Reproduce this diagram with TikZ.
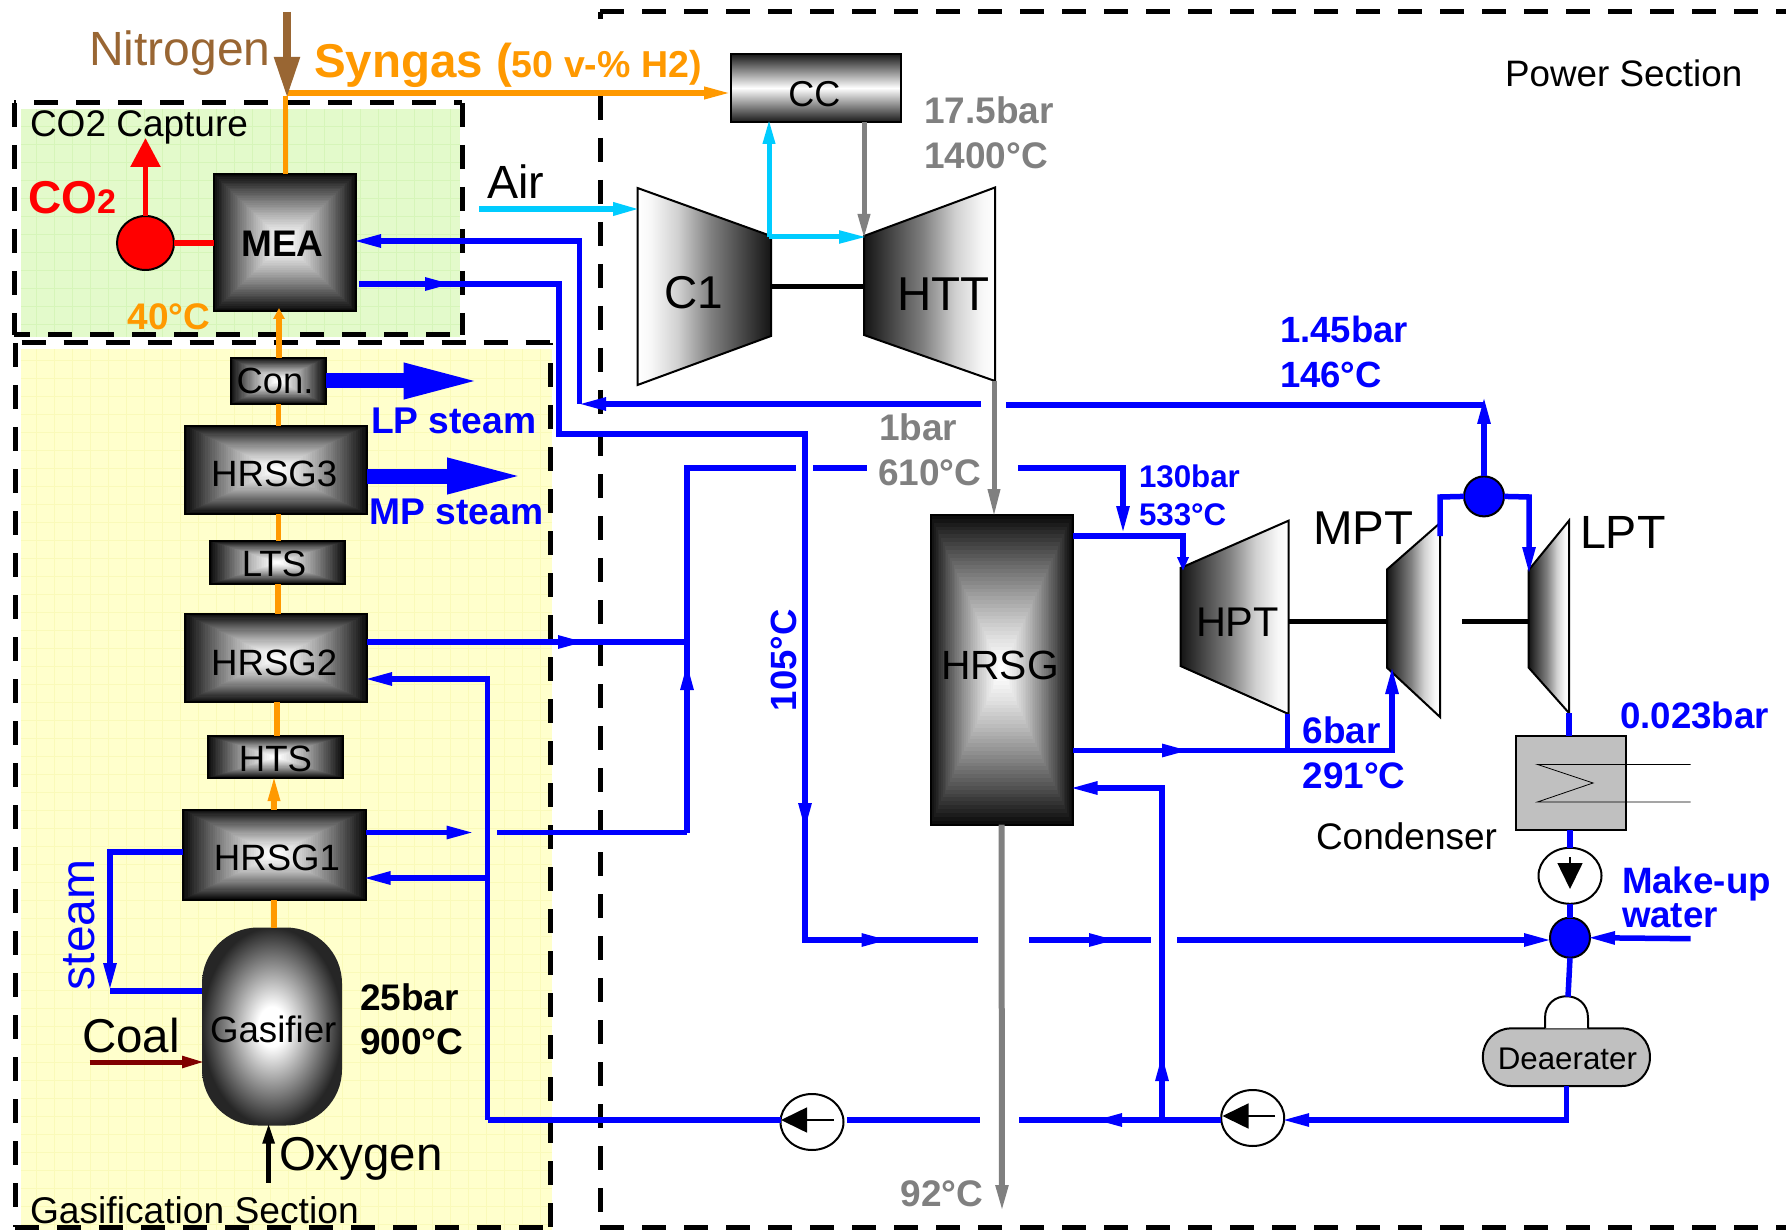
\documentclass[tikz,border=0pt]{standalone}
\usepackage{fontspec}
\setmainfont{Liberation Sans}
\usetikzlibrary{arrows.meta,calc,shapes.geometric}
\definecolor{mblue}{RGB}{0,0,255}
\definecolor{morange}{RGB}{255,153,0}
\definecolor{mgray}{RGB}{128,128,128}
\definecolor{mcyan}{RGB}{0,204,255}
\definecolor{mbrown}{RGB}{153,102,51}
\definecolor{mdred}{RGB}{128,0,0}
\definecolor{mred}{RGB}{255,0,0}
\definecolor{mgreen}{RGB}{227,250,203}
\definecolor{mgreengrid}{RGB}{214,245,185}
\definecolor{myellow}{RGB}{255,255,204}
\definecolor{myellowgrid}{RGB}{250,250,185}
\definecolor{mbox}{RGB}{192,192,192}
\pgfdeclareradialshading{gasshade}{\pgfpoint{0bp}{0bp}}{color(0bp)=(white);color(5bp)=(white);color(25bp)=(black!85);color(50bp)=(black!85)}
\pgfdeclarehorizontalshading{turbdark}{100bp}{color(0bp)=(black!92);color(25bp)=(black!92);color(47.5bp)=(black!50);color(60bp)=(black!18);color(70bp)=(black!3);color(75bp)=(white);color(100bp)=(white)}
\pgfdeclarehorizontalshading{turblight}{100bp}{color(0bp)=(white);color(25bp)=(white);color(30bp)=(black!3);color(40bp)=(black!18);color(52.5bp)=(black!50);color(75bp)=(black!92);color(100bp)=(black!92)}
\newcommand\boxtxt[3]{\raisebox{-#2pt}[0pt][0pt]{\makebox[0pt]{\hspace*{#1pt}\hspace*{#1pt}#3}}}
\tikzset{
 lbl/.style={anchor=base west,inner sep=0pt,outer sep=0pt,yshift=-1.2pt},
 fr/.style={font=\fontsize{#1}{#1}\selectfont},
 fb/.style={font=\fontsize{#1}{#1}\selectfont\bfseries},
 sect/.style={draw=black,line width=5pt,dash pattern=on 24pt off 18pt},
 bl/.style={draw=mblue,line width=5.5pt},
 ol/.style={draw=morange,line width=5.5pt},
 gl/.style={draw=mgray,line width=5pt},
 cl/.style={draw=mcyan,line width=5pt},
 shaftline/.style={draw=black,line width=5pt},
 over/.style={shorten >=-3pt},
 cont/.style={shorten <=-14pt},
 bh/.style={over,-{Triangle[length=28pt,width=12pt]}},
 bigh/.style={draw=mblue,line width=15pt,shorten >=-8pt,-{Triangle[length=79pt,width=32pt]}},
 turbl/.style={draw=black,line width=2pt,shade,shading=turblight},
 turbr/.style={draw=black,line width=2pt,shade,shading=turbdark},
 gradbox/.style={rectangle,draw=black,line width=2pt,inner sep=0pt,outer sep=0pt,
  path picture={\foreach \i in {0,...,39}{
    \pgfmathsetmacro\gradk{95*(1-\i/39)^1.25}
    \fill[black!\gradk!white] ($(path picture bounding box.north west)!{\i/80}!(path picture bounding box.south east)$) rectangle ($(path picture bounding box.north west)!{1-\i/80}!(path picture bounding box.south east)$);
  }}},
 pump/.style={ellipse,draw=black,line width=2pt,fill=white,minimum width=63pt,minimum height=56pt,inner sep=0pt,outer sep=0pt},
 junc/.style={ellipse,draw=black,line width=2pt,fill=mblue,minimum width=40pt,minimum height=40pt,inner sep=0pt,outer sep=0pt},
 pumph/.style={draw=black,line width=1.6pt,-{Triangle[length=26pt,width=25pt]}},
}
\begin{document}
\begin{tikzpicture}[x=1pt,y=-1pt]
\useasboundingbox (0,0) rectangle (1786,1230);
\clip (0,0) rectangle (1786,1230);
\fill[white] (0,0) rectangle (1786,1230);
% section backgrounds
\fill[mgreen] (21,109) rectangle (460,337);
\draw[mgreengrid,line width=.6pt] (21,109) grid[xstep=18pt,ystep=18pt] (460,337);
\fill[myellow] (21,349) rectangle (552,1230);
\draw[myellowgrid,line width=.6pt] (21,349) grid[xstep=18pt,ystep=18pt] (552,1230);
% section frames
\coordinate (pwTL) at (600,12);
\coordinate (pwL) at (600,96);
\coordinate (pwTR) at (1790,12);
\coordinate (pwBL) at (600,1227);
\coordinate (pwBR) at (1790,1227);
\coordinate (pwTick) at (600,19);
\draw[sect] (pwTL) -- (pwTR);
\draw[sect] (pwTL) -- (pwTick);
\draw[sect] (pwL) -- (pwBL);
\draw[sect] (pwBL) -- (pwBR);
\coordinate (coTL) at (14,103);
\coordinate (coTR) at (462,103);
\coordinate (coBL) at (14,335);
\coordinate (coBR) at (462,335);
\draw[sect,dash phase=21.6pt] (coTL) -- (coTR);
\draw[sect] (coTL) -- (coBL);
\draw[sect,dash phase=8pt] (coBL) -- (coBR);
\draw[sect] (coTR) -- (coBR);
\coordinate (gaTL) at (15,343);
\coordinate (gaTR) at (550,343);
\coordinate (gaBL) at (15,1227);
\coordinate (gaBR) at (550,1227);
\draw[sect,dash phase=35.4pt] (gaTL) -- (gaTR);
\draw[sect] (gaTL) -- (gaBL);
\draw[sect,dash phase=22pt] (gaTR) -- (gaBR);
\draw[sect] (gaBL) -- (gaBR);
% equipment boxes
\node[gradbox,minimum width=142.5pt,minimum height=137pt,fb=37] (mea) at (284.75,242.5) {\boxtxt{-2.3}{14}{MEA}};
\node[gradbox,minimum width=95pt,minimum height=46pt,fr=36.4] (con) at (278,381) {\boxtxt{-3}{13}{Con.}};
\node[gradbox,minimum width=182pt,minimum height=88pt,fr=36.6] (hrsg3) at (276,469.7) {\boxtxt{-1.75}{17.3}{HRSG3}};
\node[gradbox,minimum width=135pt,minimum height=43pt,fr=36.6] (lts) at (277.5,562.5) {\boxtxt{-3.5}{14}{LTS}};
\node[gradbox,minimum width=182pt,minimum height=88pt,fr=36.6] (hrsg2) at (276,658) {\boxtxt{-1.75}{17}{HRSG2}};
\node[gradbox,minimum width=135pt,minimum height=42pt,fr=36.6] (hts) at (275.5,757) {\boxtxt{0}{14}{HTS}};
\node[gradbox,minimum width=182.5pt,minimum height=89.5pt,fr=36.6] (hrsg1) at (274.25,854.75) {\boxtxt{2.75}{16}{HRSG1}};
\node[gradbox,minimum width=142pt,minimum height=309.5pt,fr=40.8] (hrsg) at (1001.5,669.75) {\boxtxt{-1.5}{10}{HRSG}};
\node[rectangle,draw=black,line width=2pt,inner sep=0pt,outer sep=0pt,shading=axis,top color=black!90,bottom color=black!90,middle color=white,minimum width=170pt,minimum height=68pt,fr=36] (cc) at (816,88) {\boxtxt{-1.6}{19}{CC}};
\node[rectangle,rounded corners=56pt,draw=none,inner sep=0pt,outer sep=0pt,shading=gasshade,minimum width=140pt,minimum height=198pt,fr=36.7] (gas) at (272,1026.5) {\boxtxt{1.25}{15.5}{Gasifier}};
\node[rectangle,draw=black,line width=2pt,fill=mbox,inner sep=0pt,outer sep=0pt,minimum width=110.2pt,minimum height=94.4pt] (cond) at (1570.7,783.2) {};
\node[rectangle,rounded corners=28pt,draw=black,line width=2pt,fill=mbox,inner sep=0pt,outer sep=0pt,minimum width=167pt,minimum height=57.6pt,fr=31.3] (dea) at (1566.4,1057.2) {\boxtxt{1}{12.5}{Deaerater}};
% deaerater dome
\draw[black,line width=2pt,fill=white] (1545,1028.4) -- (1545,1018) .. controls (1545,989) and (1588,989) .. (1588,1018) -- (1588,1028.4);
% condenser coil
\draw[black,line width=.8pt] (1690.6,764.4) -- (1537.4,764.4) -- (1593,783) -- (1537.4,802) -- (1690.6,802);
% turbines
\path[turbl] (637.5,188) -- (771,236) -- (771,336) -- (637.5,385) -- cycle;
\path[turbr] (864,236) -- (995,187.5) -- (995,381) -- (864,335) -- cycle;
\path[turbr] (1180.5,568) -- (1288.5,520.7) -- (1288.5,714) -- (1180.5,666) -- cycle;
\path[turbr] (1387,569.5) -- (1440,523) -- (1440,717) -- (1387,667.7) -- cycle;
\path[turbr] (1528.7,570) -- (1569,520.6) -- (1569,713) -- (1528.7,667.7) -- cycle;
% pumps and junctions
\node[pump] (p1) at (1570,875.8) {};
\node[pump] (p2) at (1252.7,1118) {};
\node[pump] (p3) at (812,1122) {};
\node[junc] (spl) at (1484,496.4) {};
\node[junc] (mix) at (1570,937.7) {};
\node[ellipse,draw=black,line width=2pt,fill=mred,minimum width=57pt,minimum height=54pt,inner sep=0pt,outer sep=0pt] (cap) at (145.5,243) {};
% pump arrows
\coordinate (p1a) at (1570,857); \coordinate (p1b) at (1570,889);
\draw[pumph] (p1a) -- (p1b);
\coordinate (p2a) at (1275,1116); \coordinate (p2b) at (1222.5,1116);
\draw[pumph] (p2a) -- (p2b);
\coordinate (p3a) at (833.7,1120); \coordinate (p3b) at (781,1120);
\draw[pumph] (p3a) -- (p3b);
% shafts
\coordinate (sh1) at (771,286.5); \coordinate (sh2) at (864,286.5);
\coordinate (sh3) at (1288,621); \coordinate (sh4) at (1387,621);
\coordinate (sh5) at (1462,621); \coordinate (sh6) at (1528.7,621);
\draw[shaftline] (sh1) -- (sh2);
\draw[shaftline] (sh3) -- (sh4);
\draw[shaftline] (sh5) -- (sh6);
% nitrogen and syngas
\coordinate (nt) at (287,12); \coordinate (nb) at (287,95);
\coordinate (sg) at (287,93); \coordinate (ccin) at (730,93);
\coordinate (og) at (285.6,96);
\draw[draw=morange,line width=6pt,over,-{Triangle[length=29pt,width=11pt]}] (sg) -- (ccin);
\draw[ol] (og) -- (og |- mea.north);
\draw[draw=mbrown,line width=8pt,over,-{Triangle[length=41pt,width=24pt]}] (nt) -- (nb);
% shift train
\draw[ol] ([xshift=2pt]gas.north) -- ([xshift=-.25pt]hrsg1.south);
\draw[ol,over,-{Triangle[length=26pt,width=11pt]}] ([xshift=-.25pt]hrsg1.north) -- ([xshift=-1.5pt]hts.south);
\draw[ol] ([xshift=1.5pt]hts.north) -- ([xshift=1pt]hrsg2.south);
\draw[ol] ([xshift=2pt]hrsg2.north) -- ([xshift=.5pt]lts.south);
\draw[ol] ([xshift=1.2pt]lts.north) -- ([xshift=2.7pt]hrsg3.south);
\draw[ol] ([xshift=2.7pt]hrsg3.north) -- ([xshift=.7pt]con.south);
\draw[ol,over,-{Triangle[length=11pt,width=11pt]}] ([xshift=1pt]con.north) -- ([xshift=-5.75pt]mea.south);
% CO2
\coordinate (co2t) at (145.5,141);
\draw[draw=mred,line width=5.5pt,over,-{Triangle[length=29pt,width=29pt]}] (cap.north) -- (co2t);
\draw[draw=mred,line width=6pt] (cap.east) -- (mea.west |- cap.east);
% air
\coordinate (air0) at (479,209); \coordinate (air1) at (638,209);
\draw[draw=mcyan,line width=6pt,over,-{Triangle[length=28pt,width=12pt]}] (air0) -- (air1);
\coordinate (cy0) at (769,237); \coordinate (cy1) at (864,237);
\draw[cl,over,-{Triangle[length=28pt,width=12pt]}] (cy0) -- (cy1);
\draw[cl,over,-{Triangle[length=25pt,width=11.5pt]}] (cy0) -- (cy0 |- cc.south);
% gas path
\coordinate (gs0) at (864,122); \coordinate (gs1) at (864,236);
\draw[gl,over,-{Triangle[length=25pt,width=11.5pt]}] (gs0) -- (gs1);
\coordinate (ex0) at (994,381); \coordinate (ex1) at (994,514);
\draw[gl,over,-{Triangle[length=28pt,width=11.5pt]}] (ex0) -- (ex1);
\coordinate (st1) at (1002,1210);
\draw[draw=mgray,line width=6pt,over,-{Triangle[length=28pt,width=11.5pt]}] (hrsg.south) -- (st1);
% process steam arrows
\draw[bigh] (con.east) -- ++(149,0) coordinate (lpT);
\draw[bigh] ([yshift=-6.3pt]hrsg3.east) -- ++(151,0) coordinate (mpT);
% coal and oxygen
\coordinate (coal0) at (89.5,1062); \coordinate (coal1) at (202,1062);
\draw[draw=mdred,line width=5pt,over,-{Triangle[length=23pt,width=11pt]}] (coal0) -- (coal1);
\coordinate (ox0) at (268.6,1182.6); \coordinate (ox1) at (268.6,1125.5);
\draw[draw=black,line width=5pt,over,-{Triangle[length=21pt,width=11pt]}] (ox0) -- (ox1);
% blue: MEA feed
\coordinate (a1) at (579.4,241); \coordinate (a2) at (579.4,404);
\coordinate (a3) at (1484,405); \coordinate (a3t) at (1484,399);
\coordinate (a4) at (1006,405); \coordinate (a5) at (981,404); \coordinate (a6) at (581,404);
\draw[bl,bh] (a5) -- (a6);
\draw[bl,bh] (a2) -- (a1) -- (mea.east |- a1);
\draw[bl] (a3) -- (a4);
\draw[bl,bh] (spl.north) -- (a3t);
% blue: MEA return
\coordinate (b0) at (359,284); \coordinate (b1) at (450,284); \coordinate (b2) at (559,284);
\coordinate (b3) at (559,434); \coordinate (b4) at (805,434); \coordinate (b5) at (805,828);
\coordinate (b6) at (805,940); \coordinate (b7) at (886.5,940); \coordinate (b8) at (977.6,940);
\coordinate (b9) at (1029,940); \coordinate (b10) at (1114,940); \coordinate (b11) at (1150.5,940);
\coordinate (b12) at (1177,940); \coordinate (b13) at (1549,940);
\draw[bl,bh] (b0) -- (b1);
\draw[bl,cont,bh] (b1) -- (b2) -- (b3) -- (b4) -- (b5);
\draw[bl,cont,bh] (b5) -- (b6) -- (b7);
\draw[bl,cont] (b7) -- (b8);
\draw[bl,bh] (b9) -- (b10);
\draw[bl,cont] (b10) -- (b11);
\draw[bl,bh] (b12) -- (b13);
% blue: HP feedwater
\coordinate (c1) at (687,832.5); \coordinate (c2) at (687,665); \coordinate (c3) at (687,468);
\coordinate (c4) at (796,468); \coordinate (c5) at (813,468); \coordinate (c6) at (867,468);
\coordinate (c7) at (1018,468); \coordinate (c8) at (1123,468); \coordinate (c9) at (1123,531);
\draw[bl,bh] (c1) -- (c2);
\draw[bl,cont] (c2) -- (c3) -- (c4);
\draw[bl] (c5) -- (c6);
\draw[bl,bh] (c7) -- (c8) -- (c9);
\coordinate (d1) at (583,642); \coordinate (d2) at (687,642);
\draw[bl,bh] (hrsg2.east |- d1) -- (d1);
\draw[bl,cont] (d1) -- (d2);
\coordinate (e1) at (471.5,832.5); \coordinate (e2) at (497,832.5);
\draw[bl,bh] (hrsg1.east |- e1) -- (e1);
\draw[bl] (e2) -- (c1);
% blue: feed to gasification HRSGs
\coordinate (f1) at (487.6,679); \coordinate (f2) at (487.6,878); \coordinate (f3) at (487.6,1120);
\draw[bl,bh] (f3) -- (f1) -- (hrsg2.east |- f1);
\draw[bl,bh] (f2) -- (hrsg1.east |- f2);
\draw[bl] (f3) -- (p3.west |- f3);
\coordinate (g1) at (847,1120); \coordinate (g2) at (979.5,1120); \coordinate (g3) at (1018.5,1120);
\coordinate (g4) at (1097,1120); \coordinate (g5) at (1221,1120);
\draw[bl] (g1) -- (g2);
\draw[bl,bh] (g5) -- (g4);
\draw[bl,cont] (g4) -- (g3);
\coordinate (h1) at (1162,1120); \coordinate (h2) at (1162,1056); \coordinate (h3) at (1162,788);
\draw[bl,bh] (h1) -- (h2);
\draw[bl,cont,bh] (h2) -- (h3) -- (hrsg.east |- h3);
\coordinate (i1) at (1566.4,1120);
\draw[bl,bh] (dea.south) -- (i1) -- (p2.east |- i1);
% blue: HRSG to turbines
\coordinate (j1) at (1183,536); \coordinate (j2) at (1183,568);
\draw[bl,over,-{Triangle[length=14pt,width=11pt]}] (hrsg.east |- j1) -- (j1) -- (j2);
\coordinate (k1) at (1187,750.5); \coordinate (k2) at (1287.5,750.5); \coordinate (k3) at (1392,750.5);
\coordinate (k4) at (1392,669); \coordinate (k5) at (1287.5,714);
\draw[bl,bh] (hrsg.east |- k1) -- (k1);
\draw[bl,cont,bh] (k1) -- (k3) -- (k4);
\draw[bl] (k5) -- (k2);
\coordinate (l1) at (1440,497); \coordinate (l2) at (1440,536); \coordinate (l3) at (1529,497); \coordinate (l4) at (1529,572);
\draw[bl] (spl.west) -- (l1) -- (l2);
\draw[bl,bh] (spl.east) -- (l3) -- (l4);
\coordinate (m0) at (1690.6,938.7);
\draw[bl,bh] (m0) -- (mix.east);
\coordinate (lptb) at (1569,713); \coordinate (domeT) at (1568,996.7);
\draw[bl] (lptb) -- (lptb |- cond.north);
\draw[bl] (cond.south -| p1.north) -- (p1.north);
\draw[bl] (p1.south) -- (mix.north);
\draw[bl] (mix.south) -- (domeT);
\coordinate (n1) at (110,852); \coordinate (n2) at (110,988); \coordinate (n3) at (110,991);
\draw[bl,bh] (hrsg1.west |- n1) -- (n1) -- (n2);
\draw[bl] (n3) -- (gas.west |- n3);
% labels
\node[lbl,fr=48,text=mbrown] (tN) at (89,64) {Nitrogen};
\node[lbl,fb=47.5,text=morange] (tS) at (314,76) {Syngas ({\fontsize{37.5}{37.5}\selectfont 50 v-\% H2)}};
\node[lbl,fr=37] (tCap) at (30,135) {CO2 Capture};
\node[lbl,fb=46,text=mred] (tCO) at (28,212.5) {CO{\fontsize{34}{34}\selectfont 2}};
\node[lbl,fb=37,text=morange] (t40) at (127.6,328) {40°C};
\node[lbl,fr=46.6] (tAir) at (487,197) {Air};
\node[lbl,fr=46] (tC1) at (664,307) {C1};
\node[lbl,fr=47.5] (tHTT) at (897,309) {HTT};
\node[lbl,fb=37,text=mgray] (t175) at (924,122.5) {17.5bar};
\node[lbl,fb=37,text=mgray] (t1400) at (924,167) {1400°C};
\node[lbl,fb=37,text=mgray] (t1b) at (879,439) {1bar};
\node[lbl,fb=37,text=mgray] (t610) at (878,484) {610°C};
\node[lbl,fb=37,text=mgray] (t92) at (900.6,1205.7) {92°C};
\node[lbl,fb=37.2,text=mblue] (tLP) at (371,432) {LP steam};
\node[lbl,fb=37.2,text=mblue] (tMP) at (369.5,523) {MP steam};
\node[lbl,fr=48,text=mblue,rotate=90] (tSt) at (94,989) {steam};
\node[lbl,fr=47.5] (tCoal) at (82,1051) {Coal};
\node[lbl,fr=47.5] (tOx) at (279,1169.5) {Oxygen};
\node[lbl,fb=37] (t25) at (360,1009) {25bar};
\node[lbl,fb=37] (t900) at (360,1053.5) {900°C};
\node[lbl,fr=37.2] (tGS) at (30,1222) {Gasification Section};
\node[lbl,fb=36.5,text=mblue,rotate=90] (t105) at (796,710) {105°C};
\node[lbl,fb=31.3,text=mblue] (t130) at (1139,486) {130bar};
\node[lbl,fb=31.3,text=mblue] (t533) at (1139,524) {533°C};
\node[lbl,fr=41.5] (tHPT) at (1196,635.5) {HPT};
\node[lbl,fr=47.5] (tMPT) at (1313,543) {MPT};
\node[lbl,fr=46.6] (tLPT) at (1580,547) {LPT};
\node[lbl,fb=36.5,text=mblue] (t145) at (1280,341) {1.45bar};
\node[lbl,fb=36.5,text=mblue] (t146) at (1280,386) {146°C};
\node[lbl,fr=36.8] (tPS) at (1505,85.7) {Power Section};
\node[lbl,fb=36.9,text=mblue] (t6) at (1302.5,742) {6bar};
\node[lbl,fb=36.9,text=mblue] (t291) at (1302.5,787.6) {291°C};
\node[lbl,fb=36.7,text=mblue] (t0023) at (1620,727) {0.023bar};
\node[lbl,fr=37] (tCond) at (1316,848) {Condenser};
\node[lbl,fb=36.7,text=mblue] (tMk) at (1622,892) {Make-up};
\node[lbl,fb=36.7,text=mblue] (tWa) at (1622,926) {water};
\end{tikzpicture}
\end{document}
